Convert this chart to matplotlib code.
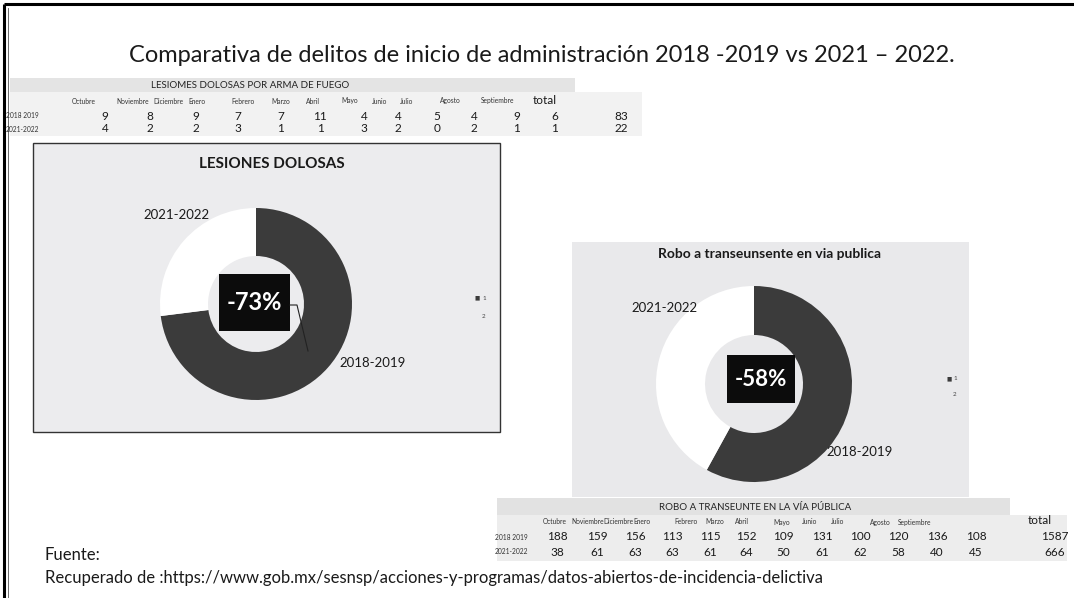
import matplotlib
matplotlib.use("Agg")
import matplotlib.pyplot as plt
from matplotlib.patches import Rectangle

plt.rcParams['font.family'] = ['Lato', 'DejaVu Sans']

W, H = 1074, 598

# ---------------- data ----------------
months = ["Octubre", "Noviembre", "Diciembre", "Enero", "Febrero", "Marzo", "Abril",
          "Mayo", "Junio", "Julio", "Agosto", "Septiembre"]
row_labels = ["2018 2019", "2021-2022"]

lesiones_2018 = [9, 8, 9, 7, 7, 11, 4, 4, 5, 4, 9, 6]
lesiones_2021 = [4, 2, 2, 3, 1, 1, 3, 2, 0, 2, 1, 1]
lesiones_totals = [83, 22]

robo_2018 = [188, 159, 156, 113, 115, 152, 109, 131, 100, 120, 136, 108]
robo_2021 = [38, 61, 63, 63, 61, 64, 50, 61, 62, 58, 40, 45]
robo_totals = [1587, 666]

donut_labels = ["2018-2019", "2021-2022"]
lesiones_donut = [73, 27]
robo_donut = [58, 42]
lesiones_change = "-73%"
robo_change = "-58%"

DARK = "#3b3b3b"
TXT = "#1a1a1a"

fig = plt.figure(figsize=(W / 100, H / 100), dpi=100)
fig.patch.set_facecolor("white")

def page_axes(z):
    ax = fig.add_axes([0, 0, 1, 1], zorder=z)
    ax.set_xlim(0, W)
    ax.set_ylim(H, 0)
    ax.axis("off")
    ax.patch.set_alpha(0)
    return ax

bg = page_axes(0)
fg = page_axes(5)

# page frame
bg.plot([4, W], [4, 4], color="black", lw=2.2, solid_capstyle="butt")
bg.plot([4, 4], [4, H], color="black", lw=2.2, solid_capstyle="butt")
bg.plot([8, 8], [8, H], color="#555555", lw=0.6)

# title
fg.text(542, 55, "Comparativa de delitos de inicio de administración 2018 -2019 vs 2021 – 2022.",
        ha="center", va="center", fontsize=17, color=TXT)

# ---------------- table 1 ----------------
bg.add_patch(Rectangle((10, 78), 565, 14, facecolor="#e4e4e4", edgecolor="none"))
bg.add_patch(Rectangle((10, 92), 632, 44, facecolor="#f2f2f2", edgecolor="none"))
fg.text(250, 85, "LESIOMES DOLOSAS POR ARMA DE FUEGO", ha="center", va="center",
        fontsize=7, color="#222222")
t1_month_x = [84, 133, 168, 197, 243, 281, 313, 350, 380, 407, 450, 498]
t1_val_x = [105, 150, 196, 238, 281, 320, 364, 398, 437, 474, 517, 555]
for x, m in zip(t1_month_x, months):
    fg.text(x, 101, m, ha="center", va="center", fontsize=4.8, color="#333333")
fg.text(545, 100, "total", ha="center", va="center", fontsize=8.5, color=TXT)
for r, (lab, vals, tot) in enumerate(zip(row_labels, [lesiones_2018, lesiones_2021], lesiones_totals)):
    y = 116 + 13 * r
    fg.text(22, y, lab, ha="center", va="center", fontsize=4.8, color="#333333")
    for x, v in zip(t1_val_x, vals):
        fg.text(x, y, str(v), ha="center", va="center", fontsize=8.5, color=TXT)
    fg.text(621, y, str(tot), ha="center", va="center", fontsize=8.5, color=TXT)

# ---------------- chart 1 box ----------------
bg.add_patch(Rectangle((33, 143), 467, 289, facecolor="#ececee", edgecolor="#333333", lw=1.0))
fg.text(272, 164, "LESIONES DOLOSAS", ha="center", va="center", fontsize=11,
        fontweight="bold", color=TXT)

def donut(cx, cy, R, vals):
    ax = fig.add_axes([(cx - R) / W, 1 - (cy + R) / H, 2 * R / W, 2 * R / H], zorder=2)
    ax.pie(vals, colors=[DARK, "white"], startangle=90, counterclock=False, radius=1,
           wedgeprops=dict(width=0.5, edgecolor="none"))
    ax.set_xlim(-1, 1)
    ax.set_ylim(-1, 1)
    ax.set_aspect("equal")
    ax.axis("off")
    return ax

donut(256, 304, 96, lesiones_donut)
fg.add_patch(Rectangle((219, 274), 71, 57, facecolor="#0c0c0c", edgecolor="none"))
fg.text(254, 302, lesiones_change, ha="center", va="center", fontsize=17,
        fontweight="bold", color="white")
fg.plot([290, 297, 308], [305, 305, 351], color="#222222", lw=0.8)
fg.text(373, 363, donut_labels[0], ha="center", va="center", fontsize=9.5, color=TXT)
fg.text(176, 215, donut_labels[1], ha="center", va="center", fontsize=9.5, color=TXT)
fg.text(477, 298, "■", ha="center", va="center", fontsize=4, color=DARK)
fg.text(484, 298, "1", ha="center", va="center", fontsize=4.5, color="#444444")
fg.text(484, 316, "2", ha="center", va="center", fontsize=4.5, color="#444444")

# ---------------- chart 2 box ----------------
bg.add_patch(Rectangle((572, 242), 397, 255, facecolor="#e9e9eb", edgecolor="none"))
fg.text(769, 254, "Robo a transeunsente en via publica", ha="center", va="center",
        fontsize=10, fontweight="bold", color=TXT)
donut(754, 384, 98, robo_donut)
fg.add_patch(Rectangle((727, 355), 68, 48, facecolor="#0c0c0c", edgecolor="none"))
fg.text(761, 380, robo_change, ha="center", va="center", fontsize=16,
        fontweight="bold", color="white")
fg.text(860, 452, donut_labels[0], ha="center", va="center", fontsize=9.5, color=TXT)
fg.text(665, 308, donut_labels[1], ha="center", va="center", fontsize=9.5, color=TXT)
fg.text(949, 379, "■", ha="center", va="center", fontsize=4, color=DARK)
fg.text(955, 379, "1", ha="center", va="center", fontsize=4.5, color="#444444")
fg.text(955, 395, "2", ha="center", va="center", fontsize=4.5, color="#444444")

# ---------------- table 2 ----------------
bg.add_patch(Rectangle((497, 498), 513, 17, facecolor="#e2e2e2", edgecolor="none"))
bg.add_patch(Rectangle((497, 515), 570, 46, facecolor="#ededed", edgecolor="none"))
fg.text(755, 507, "ROBO A TRANSEUNTE EN LA VÍA PÚBLICA", ha="center", va="center",
        fontsize=7, color="#222222")
t2_month_x = [555, 588, 618, 642, 686, 715, 742, 782, 810, 838, 880, 915]
t2_val_x = [557, 597, 635, 672, 710, 746, 783, 822, 860, 898, 937, 976]
for x, m in zip(t2_month_x, months):
    fg.text(x, 522, m, ha="center", va="center", fontsize=4.8, color="#333333")
fg.text(1040, 521, "total", ha="center", va="center", fontsize=8.5, color=TXT)
for r, (lab, vals, tot) in enumerate(zip(row_labels, [robo_2018, robo_2021], robo_totals)):
    y = 537 + 15 * r
    fg.text(511, y, lab, ha="center", va="center", fontsize=4.8, color="#333333")
    for x, v in zip(t2_val_x, vals):
        fg.text(x, y, str(v), ha="center", va="center", fontsize=8.5, color=TXT)
    fg.text(1055, y, str(tot), ha="center", va="center", fontsize=8.5, color=TXT)

# ---------------- footer ----------------
fg.text(45, 555, "Fuente:", ha="left", va="center", fontsize=12, color=TXT)
fg.text(45, 578, "Recuperado de :https://www.gob.mx/sesnsp/acciones-y-programas/datos-abiertos-de-incidencia-delictiva",
        ha="left", va="center", fontsize=12, color=TXT)

fig.savefig("out.png", dpi=100)
